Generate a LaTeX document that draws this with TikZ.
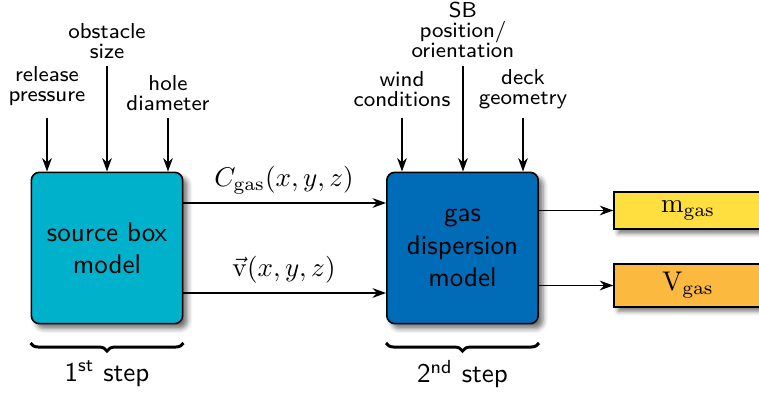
\documentclass[tikz,border=0pt]{standalone}
\usetikzlibrary{arrows.meta,decorations.pathreplacing,shadows.blur}
\definecolor{srccol}{HTML}{00B1CC}
\definecolor{gascol}{HTML}{006BB6}
\definecolor{mcol}{HTML}{FFDE40}
\definecolor{vcol}{HTML}{FBB940}
\tikzset{
  model/.style={draw=black, line width=0.6pt, rounded corners=3pt, minimum width=56pt, minimum height=56pt, inner sep=0pt, align=center, font=\sffamily,
    blur shadow={shadow xshift=1.8pt, shadow yshift=-1.8pt, shadow blur radius=1.8pt, shadow opacity=55}},
  outbox/.style={draw=black, line width=0.5pt, minimum width=54.8pt, inner sep=0pt,
    blur shadow={shadow xshift=1.6pt, shadow yshift=-1.6pt, shadow blur radius=1.6pt, shadow opacity=55}},
  param/.style={align=center, inner sep=0pt, font={\fontsize{8}{7.4}\selectfont\sffamily}},
  arr/.style={-{Stealth[length=5pt,width=3.6pt]}, line width=0.5pt},
  stepbrace/.style={decorate, decoration={brace, mirror, amplitude=3pt}, line width=1.1pt},
  steplabel/.style={font=\sffamily, inner sep=0pt}
}
\begin{document}
\begin{tikzpicture}[x=0.37pt, y=-0.37pt]
\useasboundingbox (0,0) rectangle (759,394);

% model boxes
\node[model, fill=srccol] (src) at (107,248) {source box\\model};
\node[model, fill=gascol] (gas) at (462.5,248) {gas\\dispersion\\model};

% output boxes
\node[outbox, fill=mcol, minimum height=13.7pt] (m) at (688,210.5) {$\mathrm{m}_{\mathrm{gas}}$};
\node[outbox, fill=vcol, minimum height=15.9pt] (V) at (688,285.5) {$\mathrm{V}_{\mathrm{gas}}$};

% parameter labels
\node[param] (rp) at (47,86) {release\\pressure};
\node[param] (os) at (107,41) {obstacle\\size};
\node[param] (hd) at (168,93) {hole\\diameter};
\node[param] (wc) at (402,89) {wind\\conditions};
\node[param] (sb) at (463,30) {SB\\position/\\orientation};
\node[param] (dg) at (523,89) {deck\\geometry};

\coordinate (rpA) at (47,118);
\coordinate (osA) at (107,66);
\coordinate (hdA) at (168,118);
\coordinate (wcA) at (402,118);
\coordinate (sbA) at (463,66);
\coordinate (dgA) at (523,118);

\draw[arr] (rpA) -- (rpA |- src.north);
\draw[arr] (osA) -- (osA |- src.north);
\draw[arr] (hdA) -- (hdA |- src.north);
\draw[arr] (wcA) -- (wcA |- gas.north);
\draw[arr] (sbA) -- (sbA |- gas.north);
\draw[arr] (dgA) -- (dgA |- gas.north);

% connections between models
\draw[arr] (src.east |- 0,203) -- (gas.west |- 0,203);
\draw[arr] (src.east |- 0,293) -- (gas.west |- 0,293);
\node (cl) at (284,180) {$C_{\mathrm{gas}}(x,y,z)$};
\node (vl) at (284,270) {$\vec{\mathrm{v}}(x,y,z)$};

% outputs
\draw[arr] (gas.east |- m.west) -- (m.west);
\draw[arr] (gas.east |- V.west) -- (V.west);

% braces
\draw[stepbrace] (src.west |- 0,343) -- (src.east |- 0,343);
\draw[stepbrace] (gas.west |- 0,343) -- (gas.east |- 0,343);
\node[steplabel] (s1) at (107,374) {1\textsuperscript{st} step};
\node[steplabel] (s2) at (462.5,374) {2\textsuperscript{nd} step};
\end{tikzpicture}
\end{document}
